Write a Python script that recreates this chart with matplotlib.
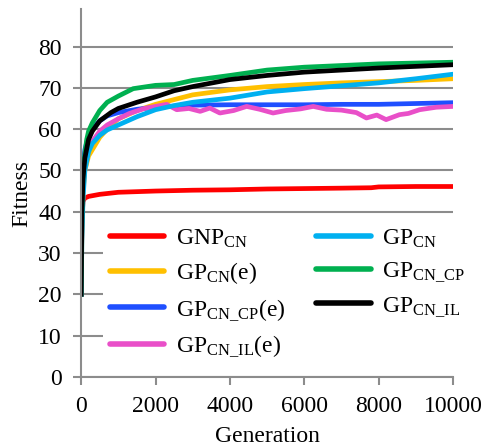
import numpy as np
import matplotlib
matplotlib.use('Agg')
import matplotlib.pyplot as plt

plt.rcParams.update({'font.family': 'serif',
                     'font.serif': ['Liberation Serif'],
                     'mathtext.fontset': 'custom',
                     'mathtext.rm': 'Liberation Serif',
                     'mathtext.it': 'Liberation Serif:italic',
                     'font.size': 17})

# curvas
gen_red = [0, 20, 50, 100, 200, 500, 1000, 2000, 3000, 4000, 5000, 6000, 7000, 7800, 8000, 9000, 10000]
fit_red = [20, 38, 42.5, 43.3, 43.7, 44.2, 44.7, 45.0, 45.2, 45.3, 45.5, 45.6, 45.7, 45.8, 46.0, 46.1, 46.1]

gen_cyan = [0, 20, 50, 100, 200, 300, 500, 700, 1000, 1500, 2000, 2500, 3000, 4000, 5000, 6000, 7000, 8000, 9000, 10000]
fit_cyan = [20, 33, 43, 50, 54.5, 56.5, 58.5, 59.8, 61, 63, 64.7, 65.7, 66.5, 67.5, 69, 69.8, 70.5, 71.2, 72.2, 73.3]

gen_yel = [0, 20, 50, 100, 200, 300, 400, 500, 700, 1000, 1500, 2000, 3000, 4000, 5000, 6000, 7000, 8000, 9000, 10000]
fit_yel = [20, 35, 45, 50, 53.5, 55, 56.5, 58, 60, 62.5, 64.5, 66, 68.3, 69.5, 70.3, 70.8, 71.2, 71.5, 71.8, 72.2]

gen_grn = [0, 20, 50, 100, 150, 200, 300, 500, 700, 1000, 1400, 2000, 2500, 3000, 4000, 5000, 6000, 7000, 8000, 9000, 10000]
fit_grn = [20, 40, 50, 54, 57.5, 59.5, 61.5, 64.5, 66.5, 68, 69.8, 70.6, 70.8, 71.8, 73, 74.3, 75, 75.4, 75.8, 76, 76.2]

gen_blu = [0, 20, 50, 100, 200, 300, 500, 700, 1000, 1500, 2000, 3000, 4000, 5000, 6000, 7000, 8000, 9000, 10000]
fit_blu = [20, 44, 51, 55, 58.5, 60, 62, 63.2, 64, 64.8, 65.3, 65.8, 65.9, 65.9, 65.9, 66, 66, 66.2, 66.4]

gen_blk = [0, 20, 50, 100, 200, 300, 500, 800, 1000, 1500, 2000, 2500, 3000, 4000, 5000, 6000, 7000, 8000, 9000, 10000]
fit_blk = [20, 40, 48, 53, 57.5, 59.5, 62, 64, 65, 66.5, 67.8, 69.3, 70.3, 72, 73, 73.8, 74.3, 74.8, 75.2, 75.6]

gen_pnk = [0, 20, 50, 100, 200, 300, 500, 700, 1000, 1300, 1700, 2000, 2300, 2570, 2900, 3200, 3460, 3730,
           4100, 4450, 4800, 5160, 5500, 5900, 6240, 6600, 7000, 7400, 7670, 7950, 8200, 8560, 8800, 9100, 9550, 10000]
fit_pnk = [20, 38, 46, 51, 55, 57, 59.5, 61, 62.5, 63.8, 65, 65.5, 66, 64.7, 65, 64.3, 65.1, 63.9,
           64.5, 65.5, 64.8, 63.9, 64.5, 64.9, 65.5, 64.8, 64.6, 64, 62.7, 63.4, 62.3, 63.5, 63.8, 64.7, 65.3, 65.5]

fig = plt.figure(figsize=(4.83, 4.47), dpi=100)
ax = fig.add_axes([0.168, 0.157, 0.770, 0.822])

lw = 3.4
ax.plot(gen_red, fit_red, color='#ff0000', lw=lw, label=r'GNP$_{\mathrm{CN}}$')
ax.plot(gen_yel, fit_yel, color='#ffc000', lw=lw, label=r'GP$_{\mathrm{CN}}$(e)')
ax.plot(gen_blu, fit_blu, color='#1f4fff', lw=lw, label=r'GP$_{\mathrm{CN\_CP}}$(e)')
ax.plot(gen_pnk, fit_pnk, color='#e94fc8', lw=lw, label=r'GP$_{\mathrm{CN\_IL}}$(e)')
ax.plot(gen_cyan, fit_cyan, color='#00b0f0', lw=lw, label=r'GP$_{\mathrm{CN}}$')
ax.plot(gen_grn, fit_grn, color='#00b050', lw=lw, label=r'GP$_{\mathrm{CN\_CP}}$')
ax.plot(gen_blk, fit_blk, color='#000000', lw=lw, label=r'GP$_{\mathrm{CN\_IL}}$')

ax.set_xlim(0, 10000)
ax.set_ylim(0, 89)
ax.set_xticks(np.arange(0, 10001, 2000))
ax.set_yticks(np.arange(0, 81, 10))
ax.yaxis.grid(True, color='#8c8c8c', lw=1.5)
ax.set_axisbelow(True)
for s in ['top', 'right']:
    ax.spines[s].set_visible(False)
for s in ['left', 'bottom']:
    ax.spines[s].set_color('#8c8c8c')
    ax.spines[s].set_linewidth(1.5)
ax.tick_params(axis='both', color='#8c8c8c', width=1.5, length=6, direction='out', pad=8)

ax.set_xlabel('Generation', labelpad=6)
ax.set_ylabel('Fitness', labelpad=4)

leg = ax.legend(loc='lower left', bbox_to_anchor=(0.052, 0.022), ncol=2, frameon=True,
                handlelength=2.3, handletextpad=0.5, columnspacing=1.3, labelspacing=0.45,
                borderaxespad=0.1, borderpad=0.3, fontsize=17)
leg.get_frame().set_facecolor('white')
leg.get_frame().set_edgecolor('none')
leg.get_frame().set_alpha(1)
for h in leg.get_lines():
    h.set_linewidth(4)
    h.set_solid_capstyle('round')

fig.savefig('out.png', dpi=100)
